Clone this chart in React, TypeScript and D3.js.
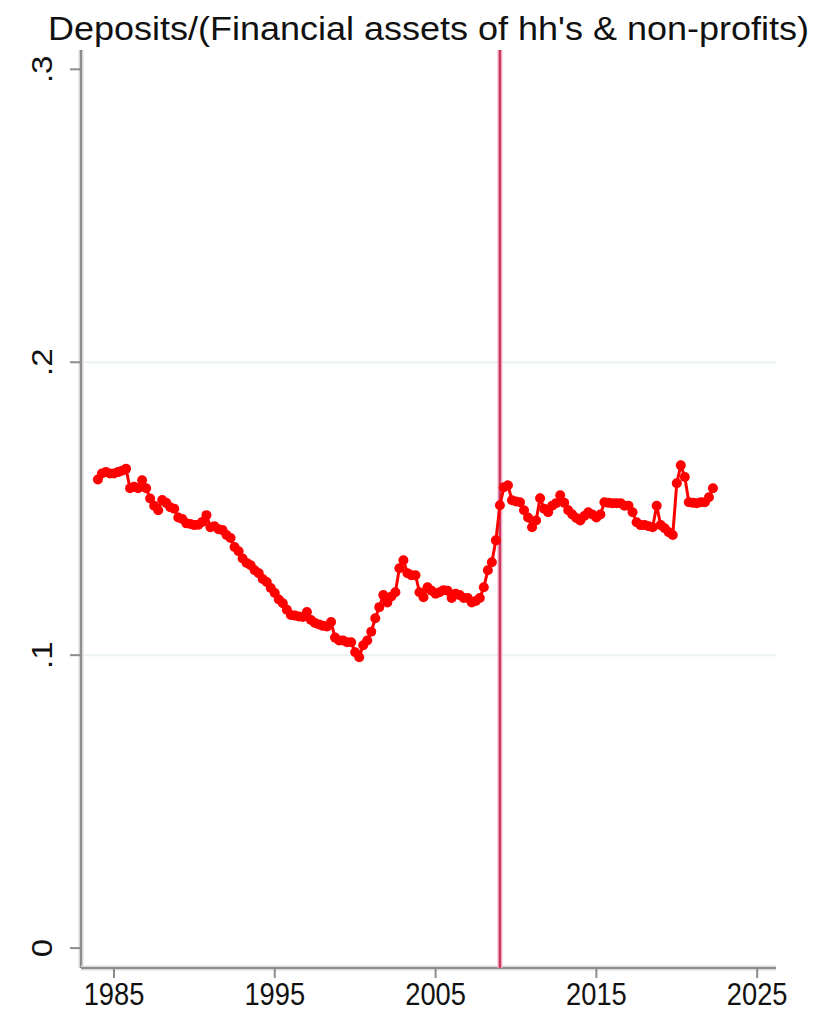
import React from "react";
import * as d3 from "d3";

// Deposits as a share of financial assets of households & non-profits, quarterly from 1984Q1
const startYear = 1984;
const depositShare: number[] = [
  0.160, 0.162, 0.1625, 0.162, // 1984
  0.162, 0.1625, 0.163, 0.1636, // 1985
  0.157, 0.1575, 0.157, 0.1597, // 1986
  0.157, 0.1535, 0.151, 0.1495, // 1987
  0.153, 0.152, 0.1505, 0.150, // 1988
  0.147, 0.1465, 0.145, 0.1448, // 1989
  0.1444, 0.1445, 0.1455, 0.1478, // 1990
  0.1437, 0.144, 0.143, 0.1427, // 1991
  0.141, 0.140, 0.1369, 0.1355, // 1992
  0.133, 0.1315, 0.1307, 0.129, // 1993
  0.128, 0.126, 0.125, 0.1229, // 1994
  0.1212, 0.119, 0.1177, 0.1155, // 1995
  0.1137, 0.1135, 0.1132, 0.113, // 1996
  0.1147, 0.112, 0.111, 0.1105, // 1997
  0.110, 0.1098, 0.1113, 0.106, // 1998
  0.105, 0.105, 0.1044, 0.1044, // 1999
  0.101, 0.0993, 0.1034, 0.105, // 2000
  0.108, 0.1126, 0.1164, 0.1205, // 2001
  0.118, 0.120, 0.1215, 0.1297, // 2002
  0.1324, 0.128, 0.1273, 0.1273, // 2003
  0.1215, 0.1198, 0.1232, 0.122, // 2004
  0.121, 0.1215, 0.1222, 0.122, // 2005
  0.1195, 0.121, 0.1205, 0.1195, // 2006
  0.1195, 0.118, 0.1185, 0.1195, // 2007
  0.1232, 0.129, 0.1317, 0.1392, // 2008
  0.1512, 0.1573, 0.158, 0.1529, // 2009
  0.1525, 0.1522, 0.1495, 0.147, // 2010
  0.1437, 0.146, 0.1536, 0.150, // 2011
  0.1488, 0.151, 0.1519, 0.1546, // 2012
  0.152, 0.1495, 0.148, 0.1468, // 2013
  0.146, 0.1475, 0.1488, 0.148, // 2014
  0.147, 0.148, 0.1522, 0.152, // 2015
  0.1519, 0.1519, 0.1519, 0.151, // 2016
  0.151, 0.1488, 0.1454, 0.1444, // 2017
  0.1444, 0.144, 0.1437, 0.151, // 2018
  0.1444, 0.1433, 0.142, 0.141, // 2019
  0.1587, 0.1648, 0.1608, 0.1522, // 2020
  0.152, 0.1519, 0.1522, 0.1522, // 2021
  0.1539, 0.157, // 2022
];

const crisisYear = 2009;
const xTicks = [1985, 1995, 2005, 2015, 2025];
const yTicks = [0, 0.1, 0.2, 0.3];
const yTickLabels = ["0", ".1", ".2", ".3"];
const gridValues = [0.1, 0.2];
const title = "Deposits/(Financial assets of hh's & non-profits)";

const W = 822;
const H = 1013;
const left = 81;
const right = 776;
const top = 50;
const bottom = 968;

const FONT = "'Liberation Sans', Arial, Helvetica, sans-serif";
const SQUEEZE = 0.88;

export default function App() {
  const x = d3.scaleLinear().domain([1982.95, 2026.17]).range([left, right]);
  const y = d3.scaleLinear().domain([-0.0068, 0.3066]).range([bottom, top]);

  const points = depositShare.map((v, i) => ({ t: startYear + i / 4, v }));
  const line = d3
    .line<{ t: number; v: number }>()
    .x((d) => x(d.t))
    .y((d) => y(d.v));

  const axisDark = "#8c8c8c";
  const axisLight = "#dcdcdc";

  return (
    <svg
      width={W}
      height={H}
      style={{ position: "absolute", left: 0, top: 0, background: "#fff" }}
      fontFamily={FONT}
    >
      <rect width={W} height={H} fill="#fff" />

      {/* title */}
      <text
        x={(left + right) / 2}
        y={40}
        textAnchor="middle"
        fontSize={34}
        textLength={761}
        lengthAdjust="spacingAndGlyphs"
        fill="#111"
      >
        {title}
      </text>

      {/* horizontal grid */}
      {gridValues.map((g) => (
        <line key={g} x1={left} x2={right} y1={y(g)} y2={y(g)} stroke="#eaf2f2" strokeWidth={2} />
      ))}

      {/* y axis */}
      <line x1={left} x2={left} y1={top} y2={bottom} stroke={axisLight} strokeWidth={5} />
      <line x1={left} x2={left} y1={top} y2={bottom} stroke={axisDark} strokeWidth={2.2} />
      {yTicks.map((t, i) => (
        <g key={t}>
          <line x1={left - 11} x2={left} y1={y(t)} y2={y(t)} stroke={axisDark} strokeWidth={2} />
          <text
            transform={`translate(${52},${y(t)}) scale(${SQUEEZE},1) rotate(-90)`}
            textAnchor="middle"
            fontSize={33}
            fill="#111"
          >
            {yTickLabels[i]}
          </text>
        </g>
      ))}

      {/* x axis */}
      <line x1={left} x2={right} y1={bottom} y2={bottom} stroke={axisLight} strokeWidth={5} />
      <line x1={left} x2={right} y1={bottom} y2={bottom} stroke={axisDark} strokeWidth={2.2} />
      {xTicks.map((t) => (
        <g key={t}>
          <line x1={x(t)} x2={x(t)} y1={bottom} y2={bottom + 10} stroke={axisDark} strokeWidth={2} />
          <text
            transform={`translate(${x(t)},${1005}) scale(${SQUEEZE},1)`}
            textAnchor="middle"
            fontSize={31}
            fill="#111"
          >
            {t}
          </text>
        </g>
      ))}

      {/* reference line */}
      <line x1={x(crisisYear)} x2={x(crisisYear)} y1={top} y2={bottom} stroke="#f2bccb" strokeWidth={5} />
      <line x1={x(crisisYear)} x2={x(crisisYear)} y1={top} y2={bottom} stroke="#cc3a62" strokeWidth={2.5} />

      {/* series */}
      <path d={line(points) ?? ""} fill="none" stroke="#ff0000" strokeWidth={3} />
      {points.map((p, i) => (
        <circle key={i} cx={x(p.t)} cy={y(p.v)} r={5} fill="#ff0000" />
      ))}
    </svg>
  );
}
